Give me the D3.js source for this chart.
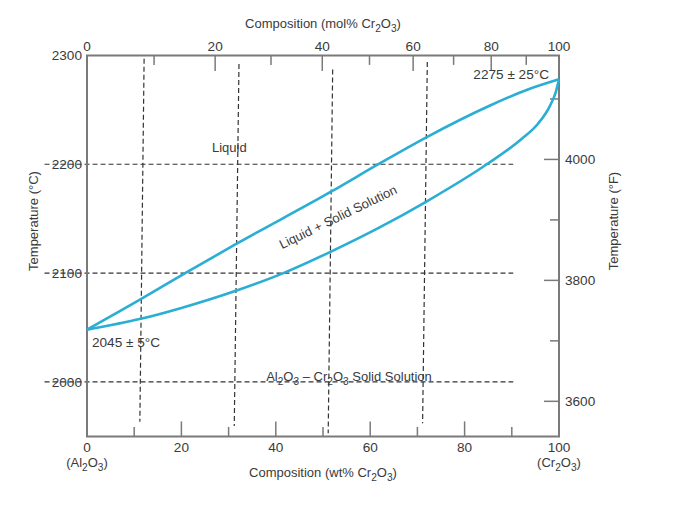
<!DOCTYPE html>
<html>
<head>
<meta charset="utf-8">
<script src="https://cdn.jsdelivr.net/npm/d3@7"></script>
<style>
  html, body { margin: 0; padding: 0; background: #fff; }
  svg { display: block; }
  text { font-family: "Liberation Sans", Arial, Helvetica, sans-serif; fill: #3a3a3a; }
</style>
</head>
<body>
<svg id="chart" width="700" height="514"></svg>
<script>
// ---------------- data ----------------
const wtLabels = [0, 20, 40, 60, 80, 100];
const wtMajor = [20, 40, 60, 80];
const wtMinor = [10, 30, 50, 70, 90];

const molLabels = [0, 20, 40, 60, 80, 100];
const molMajor = [20, 40, 60, 80];
const molMinor = [10, 30, 50, 70, 90];

const tempCLabels = [2000, 2100, 2200, 2300];
const gridTemps = [2000, 2100, 2200];

const tempFMajor = [3600, 3800, 4000];
const tempFMinor = [3700, 3900, 4100];

// liquidus (upper curve): wt% Cr2O3 and °C
const liquidusWt = [0, 11.4, 20.8, 31.7, 51.8, 62.1, 72.0, 85.4, 93, 100];
const liquidusT  = [2048, 2076, 2100, 2127, 2175, 2201, 2225, 2254, 2268, 2278];

// solidus (lower curve)
const solidusWt = [0, 11.4, 20, 31.7, 41.6, 51.8, 62, 72, 84.7, 92, 95.5, 98, 99.3, 100];
const solidusT  = [2048, 2058, 2068, 2084, 2100, 2120, 2142, 2166, 2200, 2223, 2237, 2253, 2266, 2278];

// dashed vertical guide lines (slightly slanted in the scan)
const guideWtTop    = [12.1, 32.2, 52.05, 72.1];
const guideWtBottom = [11.2, 31.2, 51.1, 71.1];
const guideTTop     = [2297, 2292, 2287, 2294];
const guideTBottom  = [1963.5, 1959.6, 1952.8, 1962];

// molar masses for mol% -> wt% conversion
const M_Al2O3 = 101.96;
const M_Cr2O3 = 151.99;

// ---------------- layout ----------------
const L = 87, R = 559, T = 55.4, B = 436.4;
const svg = d3.select("#chart");
const x = d3.scaleLinear().domain([0, 100]).range([L, R]);
const y = d3.scaleLinear().domain([1950, 2300]).range([B, T]);
const fToC = f => (f - 32) / 1.8;
const molToWt = m => 100 * m * M_Cr2O3 / (m * M_Cr2O3 + (100 - m) * M_Al2O3);

const axisColor = "#7a7a7a";
const fsText = 13;
const fsNum = 13.6;

// rich text with subscripts: parts = [{t, sub}]
function rich(sel, parts, fs) {
  let shift = 0;
  parts.forEach(p => {
    const target = p.sub ? 4 : 0;
    const ts = sel.append("tspan").text(p.t);
    if (target !== shift) { ts.attr("dy", target - shift); shift = target; }
    if (p.sub) ts.attr("font-size", fs * 0.78);
  });
}
const S = (t) => ({t, sub: true});
const N = (t) => ({t, sub: false});
const Cr2O3 = [N("Cr"), S("2"), N("O"), S("3")];
const Al2O3 = [N("Al"), S("2"), N("O"), S("3")];

// ---------------- dashed gridlines ----------------
const dash = "5,3";
svg.append("g").selectAll("line").data(gridTemps).join("line")
  .attr("x1", x(-9)).attr("x2", x(90.3))
  .attr("y1", d => y(d)).attr("y2", d => y(d))
  .attr("stroke", "#333").attr("stroke-width", 1.2).attr("stroke-dasharray", dash);

svg.append("g").selectAll("line").data(d3.range(guideWtTop.length)).join("line")
  .attr("x1", i => x(guideWtTop[i])).attr("y1", i => y(guideTTop[i]))
  .attr("x2", i => x(guideWtBottom[i])).attr("y2", i => y(guideTBottom[i]))
  .attr("stroke", "#333").attr("stroke-width", 1.2).attr("stroke-dasharray", dash);

// ---------------- frame ----------------
const frame = svg.append("g").attr("stroke", axisColor).attr("stroke-width", 2).attr("fill", "none");
frame.append("line").attr("x1", L).attr("x2", L).attr("y1", T).attr("y2", B);
frame.append("line").attr("x1", R).attr("x2", R).attr("y1", T).attr("y2", B);
frame.append("line").attr("x1", L - 1).attr("x2", R + 1).attr("y1", B).attr("y2", B);
frame.append("line").attr("x1", L - 1).attr("x2", R + 1).attr("y1", T).attr("y2", T);

// ticks (inward)
const tk = svg.append("g").attr("stroke", axisColor).attr("stroke-width", 1.5);
tk.selectAll(".bM").data(wtMajor).join("line")
  .attr("x1", d => x(d)).attr("x2", d => x(d)).attr("y1", B).attr("y2", B - 15);
tk.selectAll(".bm").data(wtMinor).join("line")
  .attr("x1", d => x(d)).attr("x2", d => x(d)).attr("y1", B).attr("y2", B - 9.5);
tk.selectAll(".tM").data(molMajor).join("line")
  .attr("x1", d => x(molToWt(d))).attr("x2", d => x(molToWt(d))).attr("y1", T).attr("y2", T + 15.5);
tk.selectAll(".tm").data(molMinor).join("line")
  .attr("x1", d => x(molToWt(d))).attr("x2", d => x(molToWt(d))).attr("y1", T).attr("y2", T + 9.5);
tk.selectAll(".rM").data(tempFMajor).join("line")
  .attr("x1", R).attr("x2", R - 15).attr("y1", d => y(fToC(d))).attr("y2", d => y(fToC(d)));
tk.selectAll(".rm").data(tempFMinor).join("line")
  .attr("x1", R).attr("x2", R - 9).attr("y1", d => y(fToC(d))).attr("y2", d => y(fToC(d)));

// ---------------- tick labels ----------------
const lab = svg.append("g").attr("font-size", fsNum);
lab.selectAll(".bl").data(wtLabels).join("text")
  .attr("x", d => x(d)).attr("y", B + 16).attr("text-anchor", "middle").text(d => d);
lab.selectAll(".tl").data(molLabels).join("text")
  .attr("x", d => x(molToWt(d))).attr("y", T - 4).attr("text-anchor", "middle").text(d => d);
lab.selectAll(".ll").data(tempCLabels).join("text")
  .attr("x", L - 5).attr("y", d => y(d) + 5).attr("text-anchor", "end").text(d => d);
lab.selectAll(".rl").data(tempFMajor).join("text")
  .attr("x", R + 6).attr("y", d => y(fToC(d)) + 5).attr("text-anchor", "start").text(d => d);

const txt = svg.append("g").attr("font-size", fsText);
// end-member labels
rich(txt.append("text").attr("x", x(0)).attr("y", B + 31).attr("text-anchor", "middle"),
  [N("(")].concat(Al2O3, [N(")")]), fsText);
rich(txt.append("text").attr("x", x(100)).attr("y", B + 31).attr("text-anchor", "middle"),
  [N("(")].concat(Cr2O3, [N(")")]), fsText);

// ---------------- axis titles ----------------
rich(txt.append("text").attr("x", (L + R) / 2).attr("y", 28).attr("text-anchor", "middle"),
  [N("Composition (mol% ")].concat(Cr2O3, [N(")")]), fsText);
rich(txt.append("text").attr("x", (L + R) / 2).attr("y", 477).attr("text-anchor", "middle"),
  [N("Composition (wt% ")].concat(Cr2O3, [N(")")]), fsText);

txt.append("text").attr("transform", "translate(38,221) rotate(-90)")
  .attr("text-anchor", "middle").text("Temperature (°C)");
txt.append("text").attr("transform", "translate(618,221) rotate(-90)")
  .attr("text-anchor", "middle").text("Temperature (°F)");

// ---------------- curves ----------------
const line = d3.line().x(d => x(d[0])).y(d => y(d[1])).curve(d3.curveMonotoneX);
const curveColor = "#2aaed4";
svg.append("path").datum(liquidusWt.map((w, i) => [w, liquidusT[i]]))
  .attr("d", line).attr("fill", "none").attr("stroke", curveColor).attr("stroke-width", 2.6);
svg.append("path").datum(solidusWt.map((w, i) => [w, solidusT[i]]))
  .attr("d", line).attr("fill", "none").attr("stroke", curveColor).attr("stroke-width", 2.6);

// ---------------- annotations ----------------
txt.append("text").attr("x", 549).attr("y", 79).attr("font-size", fsNum).attr("text-anchor", "end").text("2275 ± 25°C");
txt.append("text").attr("x", 92).attr("y", 347).attr("font-size", fsNum).attr("text-anchor", "start").text("2045 ± 5°C");
txt.append("text").attr("x", 212).attr("y", 152).attr("text-anchor", "start").text("Liquid");
txt.append("text").attr("transform", "translate(340,221) rotate(-26)")
  .attr("text-anchor", "middle").text("Liquid + Solid Solution");
rich(txt.append("text").attr("x", 349).attr("y", 381).attr("text-anchor", "middle"),
  Al2O3.concat([N(" – ")], Cr2O3, [N(" Solid Solution")]), fsText);
</script>
</body>
</html>
